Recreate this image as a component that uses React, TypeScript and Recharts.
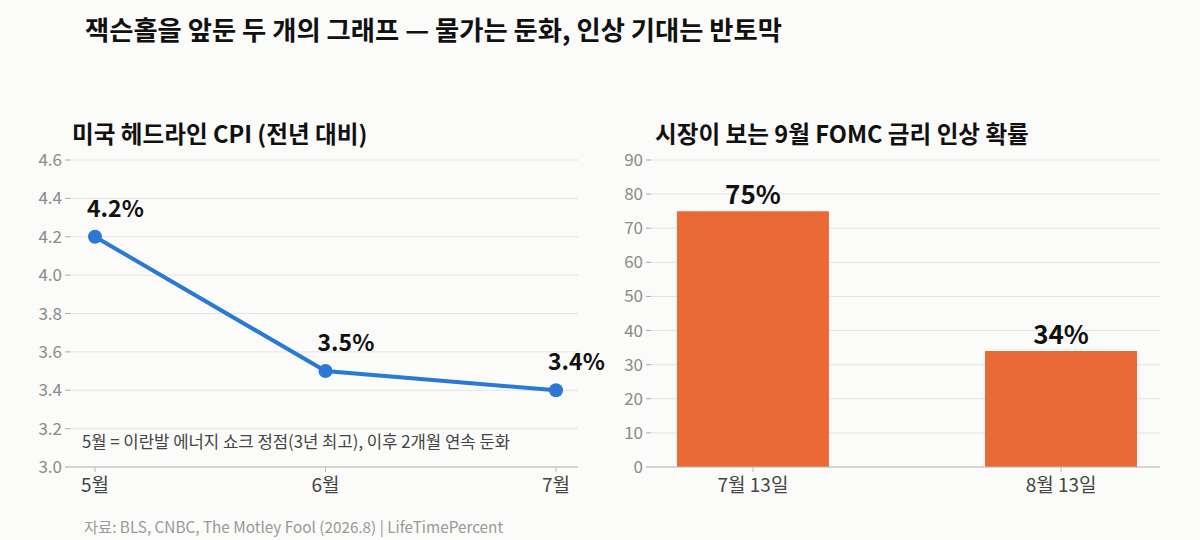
import { LineChart, Line, BarChart, Bar, XAxis, YAxis, CartesianGrid, LabelList } from 'recharts';

const months = ['5월', '6월', '7월'];
const cpiValues = [4.2, 3.5, 3.4];
const cpiTicks = [3.0, 3.2, 3.4, 3.6, 3.8, 4.0, 4.2, 4.4, 4.6];

const fomcDates = ['7월 13일', '8월 13일'];
const fomcValues = [75, 34];
const fomcTicks = [0, 10, 20, 30, 40, 50, 60, 70, 80, 90];

const FONT = '"Noto Sans CJK KR", "Noto Sans", sans-serif';
const BG = '#fbfbf9';
const BLUE = '#2b78d6';
const ORANGE = '#eb6935';

const cpiData = months.map((m, i) => ({ month: m, value: cpiValues[i] }));
const fomcData = fomcDates.map((d, i) => ({ idx: i, label: d, value: fomcValues[i] }));

const PointLabel = (props: any) => {
  const { x, y, value } = props;
  return (
    <text x={x - 8} y={y - 20} textAnchor="start" fontSize={23} fontWeight={700} fill="#111" fontFamily={FONT}>
      {value.toFixed(1)}%
    </text>
  );
};

const BarValueLabel = (props: any) => {
  const { x, y, width, value } = props;
  return (
    <text x={x + width / 2} y={y - 7} textAnchor="middle" fontSize={26} fontWeight={700} fill="#111" fontFamily={FONT}>
      {value}%
    </text>
  );
};

export default function App() {
  const yTick = { fill: '#8a8a8a', fontSize: 17, fontFamily: FONT };
  const xTick = { fill: '#444', fontSize: 19, fontFamily: FONT };

  return (
    <div style={{ position: 'fixed', left: 0, top: 0, width: 1200, height: 540, background: BG, fontFamily: FONT, overflow: 'hidden' }}>
      <div style={{ position: 'absolute', left: 85, top: 9, fontSize: 26.3, fontWeight: 700, color: '#111', whiteSpace: 'nowrap' }}>
        잭슨홀을 앞둔 두 개의 그래프 — 물가는 둔화, 인상 기대는 반토막
      </div>

      <div style={{ position: 'absolute', left: 72, top: 116, fontSize: 23.6, fontWeight: 700, color: '#111', whiteSpace: 'nowrap' }}>
        미국 헤드라인 CPI (전년 대비)
      </div>
      <div style={{ position: 'absolute', left: 655, top: 116, fontSize: 23.6, fontWeight: 700, color: '#111', whiteSpace: 'nowrap' }}>
        시장이 보는 9월 FOMC 금리 인상 확률
      </div>

      <div style={{ position: 'absolute', left: 0, top: 0 }}>
        <LineChart width={640} height={540} data={cpiData} margin={{ top: 160, right: 62, bottom: 43, left: 10 }}>
          <CartesianGrid horizontal vertical={false} stroke="#e3e3df" />
          <XAxis
            dataKey="month"
            height={30}
            padding={{ left: 25, right: 22 }}
            stroke="#bbbbb6"
            tickSize={5}
            tickMargin={7}
            tick={xTick}
          />
          <YAxis
            width={60}
            domain={[3.0, 4.6]}
            ticks={cpiTicks}
            tickFormatter={(v: number) => v.toFixed(1)}
            axisLine={false}
            tickLine={{ stroke: '#aaa' }}
            tickSize={5}
            tickMargin={3}
            tick={yTick}
          />
          <Line
            type="linear"
            dataKey="value"
            stroke={BLUE}
            strokeWidth={4}
            dot={{ r: 7, fill: BLUE, stroke: BLUE, strokeWidth: 0 }}
            isAnimationActive={false}
          >
            <LabelList dataKey="value" content={<PointLabel />} />
          </Line>
        </LineChart>
      </div>

      <div style={{ position: 'absolute', left: 600, top: 0 }}>
        <BarChart width={600} height={540} data={fomcData} margin={{ top: 160, right: 40, bottom: 43, left: 6 }}>
          <CartesianGrid horizontal vertical={false} stroke="#e3e3df" />
          <XAxis
            dataKey="idx"
            type="number"
            domain={[-0.331, 1.321]}
            ticks={[0, 1]}
            tickFormatter={(v: number) => fomcDates[v] ?? ''}
            height={30}
            stroke="#bbbbb6"
            tickSize={5}
            tickMargin={7}
            tick={xTick}
          />
          <YAxis
            width={45}
            domain={[0, 90]}
            ticks={fomcTicks}
            axisLine={false}
            tickLine={{ stroke: '#aaa' }}
            tickSize={5}
            tickMargin={3}
            tick={yTick}
          />
          <Bar dataKey="value" fill={ORANGE} barSize={152} isAnimationActive={false}>
            <LabelList dataKey="value" content={<BarValueLabel />} />
          </Bar>
        </BarChart>
      </div>

      <div style={{ position: 'absolute', left: 82, top: 429, fontSize: 16.7, color: '#444', whiteSpace: 'nowrap' }}>
        5월 = 이란발 에너지 쇼크 정점(3년 최고), 이후 2개월 연속 둔화
      </div>
      <div style={{ position: 'absolute', left: 84, top: 515, fontSize: 15.3, color: '#999', whiteSpace: 'nowrap' }}>
        자료: BLS, CNBC, The Motley Fool (2026.8) | LifeTimePercent
      </div>
    </div>
  );
}
